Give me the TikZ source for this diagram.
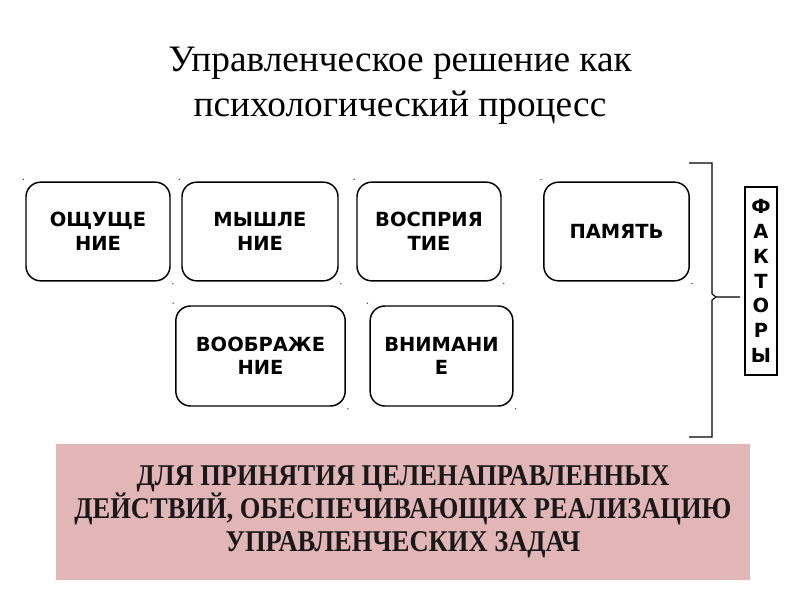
\documentclass[tikz,border=0pt]{standalone}
\usepackage{fontspec}
\setmainfont{Liberation Serif}
\newfontfamily\boxfont{DejaVu Sans}
\newfontfamily\condfont[FakeStretch=0.88]{Liberation Serif}
\definecolor{pinkbg}{RGB}{226,182,182}
\tikzset{
  factor/.style={draw=black, line width=1.1pt, rounded corners=11pt, inner sep=0pt,
    align=center, font=\boxfont\bfseries\fontsize{14.6}{17.6}\selectfont},
  handle/.style={fill=black!70, circle, inner sep=0pt, minimum size=1.2pt},
}
\begin{document}
\begin{tikzpicture}[x=0.75pt,y=-0.75pt]
\useasboundingbox (0,0) rectangle (800,600);
\fill[white] (0,0) rectangle (800,600);
% title
\node[align=center, font=\fontsize{28}{33.75}\selectfont] (title) at (400,86)
  {Управленческое решение как\\психологический процесс};
% boxes
\node[factor, minimum width=108pt, minimum height=74pt] (b1) at (98,231.5) {ОЩУЩЕ\\НИЕ};
\node[factor, minimum width=117pt, minimum height=74pt] (b2) at (260,231.5) {МЫШЛЕ\\НИЕ};
\node[factor, minimum width=108pt, minimum height=74pt] (b3) at (429,231.5) {ВОСПРИЯ\\ТИЕ};
\node[factor, minimum width=109pt, minimum height=74pt] (b4) at (616.5,231.5) {ПАМЯТЬ};
\node[factor, minimum width=127pt, minimum height=75pt] (b5) at (260.5,356) {ВООБРАЖЕ\\НИЕ};
\node[factor, minimum width=107pt, minimum height=75pt] (b6) at (441.5,356) {ВНИМАНИ\\Е};
% selection handles
\foreach \n in {b1,b2,b3,b4,b5,b6}{
  \node[handle] at ([shift={(-2,-2)}]\n.north west) {};
  \node[handle] at ([shift={(2,2)}]\n.south east) {};
}
% brace
\coordinate (bt) at (689,163);
\coordinate (bb) at (689,437);
\coordinate (bm) at (740,297);
\draw[line width=0.8pt] (bt) -- (712,163) -- (712,294) -- (716,297) -- (bm);
\draw[line width=0.8pt] (bb) -- (712,437) -- (712,300) -- (716,297);
% factors box
\node[draw=black, line width=0.8pt, inner sep=0pt, minimum width=24pt, minimum height=141pt,
  align=center, font=\boxfont\bfseries\fontsize{14.6}{18.6}\selectfont] (fk) at (761,281)
  {Ф\\А\\К\\Т\\О\\Р\\Ы};
% bottom box
\node[fill=pinkbg, minimum width=520.5pt, minimum height=102pt, inner sep=0pt,
  align=center, text=black!90, font=\condfont\bfseries\fontsize{22.6}{24.75}\selectfont] (goal) at (403,512)
  {ДЛЯ ПРИНЯТИЯ ЦЕЛЕНАПРАВЛЕННЫХ\\ДЕЙСТВИЙ, ОБЕСПЕЧИВАЮЩИХ РЕАЛИЗАЦИЮ\\УПРАВЛЕНЧЕСКИХ ЗАДАЧ};
\end{tikzpicture}
\end{document}
